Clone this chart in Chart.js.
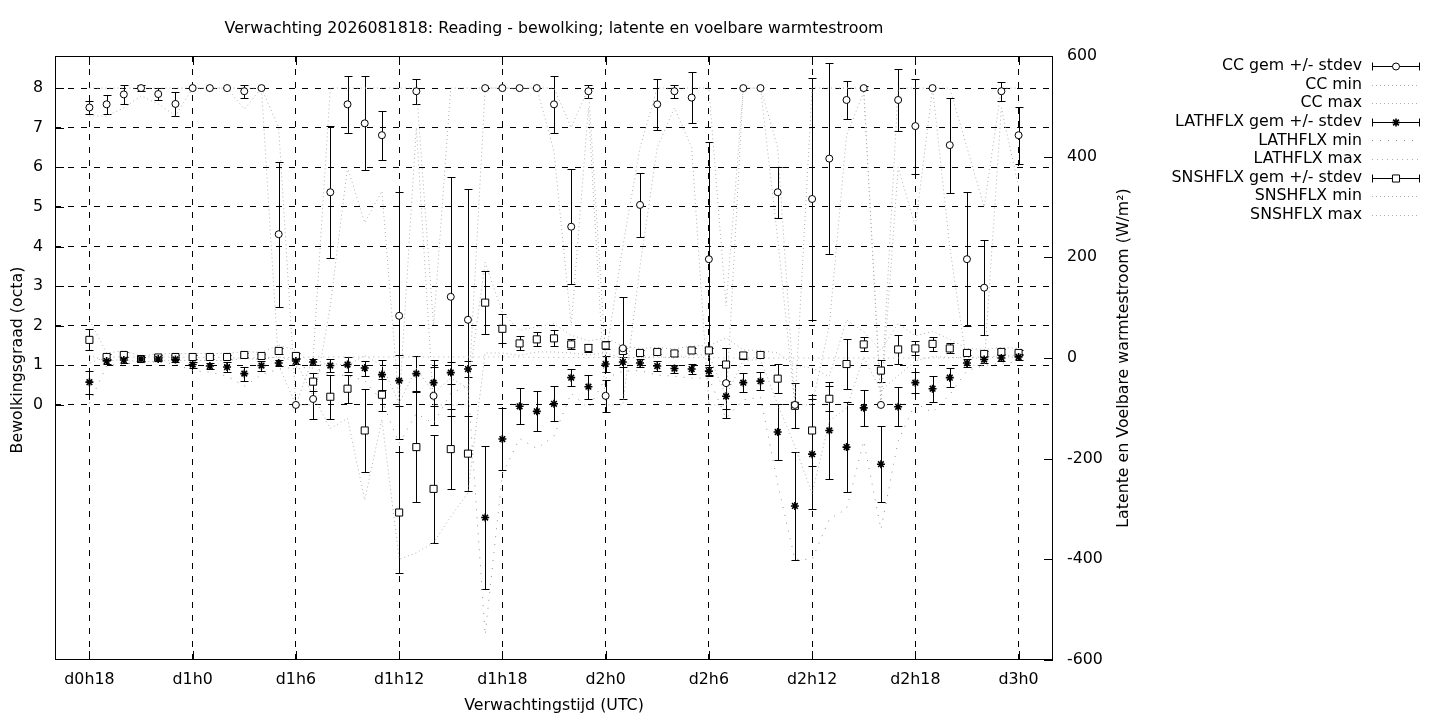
<!DOCTYPE html>
<html>
<head>
<meta charset="utf-8">
<script src="https://cdn.jsdelivr.net/npm/chart.js@4.4.0/dist/chart.umd.min.js"></script>
<style>
  html, body { margin: 0; padding: 0; background: #fff; }
</style>
</head>
<body>
<canvas id="chart" width="1440" height="720"></canvas>
<script>
// forecast hours since d0h0
const hours = [18,19,20,21,22,23,24,25,26,27,28,29,30,31,32,33,34,35,36,37,38,39,40,41,42,43,44,45,46,47,48,49,50,51,52,53,54,55,56,57,58,59,60,61,62,63,64,65,66,67,68,69,70,71,72];

const xTickHours = [18,24,30,36,42,48,54,60,66,72];
const xTickLabels = ['d0h18','d1h0','d1h6','d1h12','d1h18','d2h0','d2h6','d2h12','d2h18','d3h0'];
const yTicks = [0,1,2,3,4,5,6,7,8];

// bewolking (octa)
const ccMean = [7.51,7.59,7.84,8,7.85,7.6,8,8,8,7.92,8,4.31,0,0.15,5.37,7.59,7.11,6.81,2.25,7.92,0.23,2.73,2.15,8,8,8,8,7.59,4.5,7.92,0.23,1.43,5.05,7.59,7.92,7.76,3.68,0.55,8,8,5.37,0,5.2,6.22,7.7,8,0,7.7,7.04,8,6.56,3.68,2.96,7.92,6.81];
const ccStd = [0.17,0.24,0.25,0.07,0.15,0.31,0,0,0,0.16,0,1.83,0,0.5,1.67,0.72,1.19,0.62,3.12,0.32,0.73,3.02,3.29,0,0,0,0,0.72,1.45,0.16,0.4,1.29,0.81,0.64,0.16,0.64,2.95,0.88,0,0,0.64,0,3.05,2.42,0.47,0.05,0,0.79,1.2,0,1.2,1.69,1.2,0.24,0.72];
const ccMin = [7.3,7.29,7.5,7.8,7.6,7.3,8,8,8,7.47,8,1,0,0,2.5,6,4.6,5.4,0,7,0,0,0,8,8,8,8,6.4,2,7.5,0,0,3.5,6.5,7.5,6.5,0,0,8,8,4.2,0,0,2,6.8,7.9,0,6,4.5,8,4,1,1,7.5,5.5];
const ccMax = [8,8,8,8,8,8,8,8,8,8,8,7,0,1.2,8,8,8,8,8,8,2,8,8,8,8,8,8,8,7,8,1.2,4,6.5,8,8,8,8,2.5,8,8,6.5,0,8,8,8,8,0,8,8,8,8,6.5,5,8,8];

// latente warmtestroom (W/m2)
const latMean = [-48,-6,-4,-2,-2,-3,-13,-16,-18,-31,-15,-10,-6,-8,-15,-13,-20,-33,-45,-31,-49,-29,-22,-317,-161,-96,-106,-91,-39,-57,-12,-8,-10,-16,-21,-22,-26,-76,-49,-46,-147,-294,-191,-144,-177,-99,-211,-97,-49,-61,-39,-10,-3,0,2];
const latStd = [23,5,5,4,4,5,6,6,10,14,10,6,6,6,13,15,15,30,51,35,46,22,16,142,61,36,40,35,17,24,15,10,8,10,8,10,8,25,19,18,56,107,109,97,90,36,76,39,21,26,19,8,6,6,5];
const latMin = [-90,-15,-12,-8,-8,-12,-25,-28,-36,-56,-33,-22,-18,-20,-35,-35,-45,-85,-170,-110,-130,-70,-55,-550,-230,-160,-180,-155,-70,-100,-40,-26,-25,-34,-36,-40,-40,-120,-83,-78,-250,-400,-400,-320,-300,-165,-340,-165,-90,-108,-73,-25,-15,-10,-8];
const latMax = [-10,2,2,2,2,2,1,1,1,-1,1,1,1,2,2,2,2,2,2,2,2,2,2,2,2,2,1,1,1,1,1,1,1,1,1,1,1,0,0,0,0,0,0,0,0,0,0,0,0,0,0,1,2,4,6];

// voelbare warmtestroom (W/m2)
const snsMean = [36,2,6,-2,1,2,2,2,2,6,4,14,4,-47,-77,-61,-144,-73,-307,-177,-260,-181,-190,110,58,29,37,39,27,20,25,14,10,12,9,15,15,-13,5,6,-41,-95,-144,-81,-12,27,-25,17,19,28,19,10,8,12,10];
const snsStd = [21,5,5,3,4,4,4,4,4,4,4,6,6,18,44,28,83,32,121,110,107,80,74,62,29,14,14,16,10,8,8,5,5,5,5,5,5,33,6,5,29,45,71,25,50,14,22,29,14,14,10,5,5,5,5];
const snsMin = [5,-6,-3,-8,-6,-5,-5,-5,-5,-1,-3,3,-7,-75,-140,-120,-282,-122,-400,-387,-367,-315,-268,10,10,5,12,12,10,6,10,0,1,3,0,6,6,-75,-5,-3,-92,-175,-270,-125,-100,2,-65,-35,-6,3,1,1,-1,3,1];
const snsMax = [75,10,14,4,8,9,9,9,9,13,11,26,15,-15,-10,-15,5,-15,-90,-20,-70,-40,-60,190,90,55,62,68,45,34,40,24,19,21,18,24,24,40,16,15,10,-15,-20,-37,76,52,15,69,44,53,37,19,17,21,19];

const FONT = 'DejaVu Sans';
const FSIZE = 15.8;
Chart.defaults.font.family = FONT;
Chart.defaults.font.size = FSIZE;
Chart.defaults.color = '#000';

function pts(arr) {
    return hours.map(function (h, i) { return {x: h, y: arr[i]}; });
}

function meanSet(label, arr, std, axis, style, radius, bw) {
    return {
        label: label, data: pts(arr), stdev: std, yAxisID: axis,
        showLine: false, pointStyle: style, pointRadius: radius,
        pointBackgroundColor: '#fff', pointBorderColor: '#000', pointBorderWidth: bw,
        order: 0
    };
}

function rangeSet(label, arr, axis, dash, color) {
    return {
        label: label, data: pts(arr), yAxisID: axis,
        borderColor: color, borderWidth: 1, borderDash: dash,
        pointRadius: 0, tension: 0, fill: false,
        order: 1
    };
}

const gray = '#b0b0b0';

// errorbars onder de punten
const errorBars = {
    id: 'errorBars',
    beforeDatasetsDraw: function (chart) {
        const ctx = chart.ctx, xs = chart.scales.x, a = chart.chartArea;
        ctx.save();
        ctx.beginPath();
        ctx.rect(a.left, a.top, a.right - a.left, a.bottom - a.top);
        ctx.clip();
        ctx.strokeStyle = '#000';
        ctx.lineWidth = 1;
        chart.data.datasets.forEach(function (ds) {
            if (!ds.stdev) return;
            const ys = chart.scales[ds.yAxisID];
            ds.data.forEach(function (p, i) {
                const s = ds.stdev[i];
                if (!s) return;
                const px = Math.round(xs.getPixelForValue(p.x)) + 0.5;
                const top = Math.round(ys.getPixelForValue(p.y + s)) + 0.5;
                const bot = Math.round(ys.getPixelForValue(p.y - s)) + 0.5;
                ctx.beginPath();
                ctx.moveTo(px, top); ctx.lineTo(px, bot);
                ctx.moveTo(px - 4, top); ctx.lineTo(px + 4, top);
                ctx.moveTo(px - 4, bot); ctx.lineTo(px + 4, bot);
                ctx.stroke();
            });
        });
        ctx.restore();
    }
};

// kader, tickjes, titels en legenda zoals gnuplot
const decorations = {
    id: 'decorations',
    afterDraw: function (chart) {
        const ctx = chart.ctx, a = chart.chartArea;
        const xs = chart.scales.x, ys = chart.scales.y, y2 = chart.scales.y2;
        ctx.save();
        ctx.strokeStyle = '#000';
        ctx.lineWidth = 1;
        ctx.strokeRect(a.left + 0.5, a.top + 0.5, a.right - a.left - 1, a.bottom - a.top - 1);

        ctx.beginPath();
        xTickHours.forEach(function (h) {
            const px = Math.round(xs.getPixelForValue(h)) + 0.5;
            ctx.moveTo(px, a.bottom); ctx.lineTo(px, a.bottom - 9);
            ctx.moveTo(px, a.top); ctx.lineTo(px, a.top + 9);
        });
        yTicks.forEach(function (v) {
            const py = Math.round(ys.getPixelForValue(v)) + 0.5;
            ctx.moveTo(a.left, py); ctx.lineTo(a.left + 9, py);
        });
        y2.ticks.forEach(function (t) {
            const py = Math.round(y2.getPixelForValue(t.value)) + 0.5;
            ctx.moveTo(a.right, py); ctx.lineTo(a.right - 9, py);
        });
        ctx.stroke();

        ctx.fillStyle = '#000';
        ctx.font = FSIZE + 'px "' + FONT + '"';
        ctx.textAlign = 'center';
        ctx.textBaseline = 'middle';
        const cx = (a.left + a.right) / 2;
        ctx.fillText('Verwachting 2026081818: Reading - bewolking; latente en voelbare warmtestroom', cx, 29);
        ctx.fillText('Verwachtingstijd (UTC)', cx, 706);

        ctx.save();
        ctx.translate(18, 360);
        ctx.rotate(-Math.PI / 2);
        ctx.fillText('Bewolkingsgraad (octa)', 0, 0);
        ctx.restore();

        ctx.save();
        ctx.translate(1124, 358);
        ctx.rotate(-Math.PI / 2);
        ctx.fillText('Latente en Voelbare warmtestroom (W/m\u00b2)', 0, 0);
        ctx.restore();

        // legenda
        const lx0 = 1372, lx1 = 1420, textX = 1362;
        chart.data.datasets.forEach(function (ds, i) {
            const ly = 66 + i * 18.6;
            const py = Math.round(ly) + 0.5;
            ctx.fillStyle = '#000';
            ctx.textAlign = 'right';
            ctx.fillText(ds.label, textX, ly);
            if (ds.stdev) {
                ctx.strokeStyle = '#000';
                ctx.lineWidth = 1;
                ctx.setLineDash([]);
                ctx.beginPath();
                ctx.moveTo(lx0, py); ctx.lineTo(lx1, py);
                ctx.moveTo(lx0 + 0.5, py - 4); ctx.lineTo(lx0 + 0.5, py + 4);
                ctx.moveTo(lx1 - 0.5, py - 4); ctx.lineTo(lx1 - 0.5, py + 4);
                ctx.stroke();
                ctx.fillStyle = '#fff';
                ctx.lineWidth = ds.pointBorderWidth;
                Chart.helpers.drawPoint(ctx, {pointStyle: ds.pointStyle, radius: ds.pointRadius, rotation: 0, borderWidth: ds.pointBorderWidth}, (lx0 + lx1) / 2, py);
                ctx.lineWidth = 1;
            } else {
                ctx.strokeStyle = ds.borderColor;
                ctx.setLineDash(ds.borderDash);
                ctx.beginPath();
                ctx.moveTo(lx0, py); ctx.lineTo(lx1, py);
                ctx.stroke();
                ctx.setLineDash([]);
            }
        });
        ctx.restore();
    }
};

new Chart(document.getElementById('chart'), {
    type: 'line',
    data: {
        datasets: [
            meanSet('CC gem +/- stdev', ccMean, ccStd, 'y', 'circle', 3.5, 1),
            rangeSet('CC min', ccMin, 'y', [1, 3], gray),
            rangeSet('CC max', ccMax, 'y', [1, 3], gray),
            meanSet('LATHFLX gem +/- stdev', latMean, latStd, 'y2', 'star', 4, 1.6),
            rangeSet('LATHFLX min', latMin, 'y2', [1, 7], '#909090'),
            rangeSet('LATHFLX max', latMax, 'y2', [1, 4], gray),
            meanSet('SNSHFLX gem +/- stdev', snsMean, snsStd, 'y2', 'rect', 5, 1),
            rangeSet('SNSHFLX min', snsMin, 'y2', [1, 3], gray),
            rangeSet('SNSHFLX max', snsMax, 'y2', [1, 3], gray)
        ]
    },
    options: {
        responsive: false,
        devicePixelRatio: 1,
        animation: false,
        events: [],
        layout: { padding: { top: 56, left: 0, right: 307, bottom: 0 } },
        plugins: { legend: { display: false }, title: { display: false }, tooltip: { enabled: false } },
        scales: {
            x: {
                type: 'linear', min: 16, max: 74,
                afterBuildTicks: function (s) { s.ticks = xTickHours.map(function (v) { return {value: v}; }); },
                afterFit: function (s) { s.height = 60; },
                ticks: {
                    autoSkip: false, maxRotation: 0, padding: 10,
                    callback: function (v) { return xTickLabels[xTickHours.indexOf(v)]; }
                },
                grid: { color: '#000', lineWidth: 1, drawTicks: false },
                border: { display: false, dash: [6, 7] }
            },
            y: {
                type: 'linear', position: 'left', min: -6.44, max: 8.81,
                afterBuildTicks: function (s) { s.ticks = yTicks.map(function (v) { return {value: v}; }); },
                afterFit: function (s) { s.width = 55; },
                ticks: { padding: 12 },
                grid: { color: '#000', lineWidth: 1, drawTicks: false },
                border: { display: false, dash: [6, 7] }
            },
            y2: {
                type: 'linear', position: 'right', min: -600, max: 600,
                afterFit: function (s) { s.width = 80; },
                ticks: { stepSize: 200, padding: 14 },
                grid: { drawOnChartArea: false, drawTicks: false },
                border: { display: false }
            }
        }
    },
    plugins: [errorBars, decorations]
});
</script>
</body>
</html>
